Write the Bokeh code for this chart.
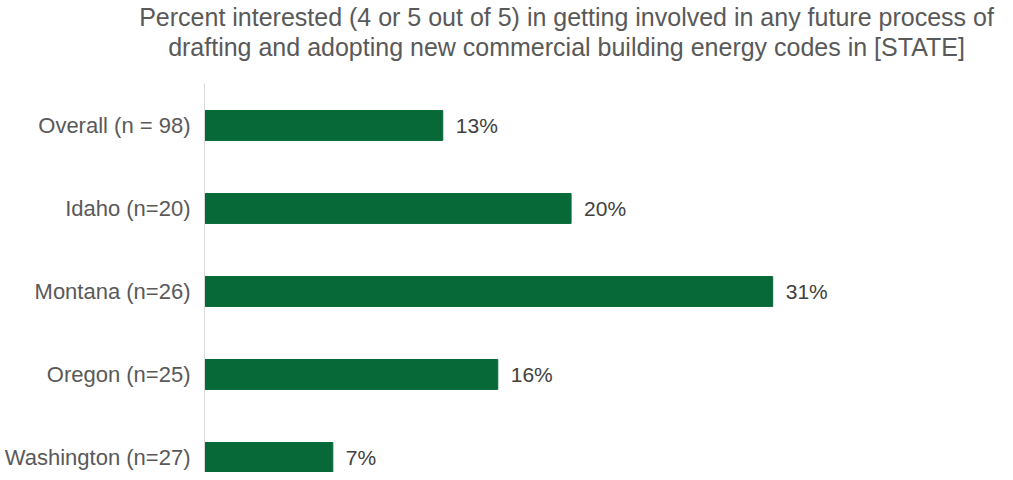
from bokeh.plotting import figure
from bokeh.models import Range1d, FixedTicker, ColumnDataSource, Title
from bokeh.core.properties import value
from bokeh.embed import file_html
from bokeh.resources import INLINE

categories = ["Overall (n = 98)", "Idaho (n=20)", "Montana (n=26)", "Oregon (n=25)", "Washington (n=27)"]
percents = [13, 20, 31, 16, 7]
value_labels = ["13%", "20%", "31%", "16%", "7%"]
title_lines = ["Percent interested (4 or 5 out of 5) in getting involved in any future process of",
               "drafting and adopting new commercial building energy codes in [STATE]"]

FONT = "Liberation Sans"
idx = list(range(len(categories)))
src = ColumnDataSource(dict(y=idx, v=percents, lab=value_labels))

p = figure(width=1005, height=472, output_backend="svg", toolbar_location=None, title=None,
           x_range=Range1d(0, 39.5), y_range=Range1d(4.181, -0.506),
           min_border_left=204, min_border_right=77, min_border_top=83, min_border_bottom=0)

# spacer nearest the frame, then the two centred title lines (second line first)
p.add_layout(Title(text=" ", text_font_size="1px", standoff=20), "above")
for line, lh in zip(reversed(title_lines), [1.0, 0.6]):
    p.add_layout(Title(text=line, align="center", text_font=FONT, text_font_size="25px",
                       text_font_style="normal", text_color="#595959", standoff=0,
                       text_line_height=lh), "above")

p.hbar(y="y", right="v", left=0, height=0.36, source=src, color="#076937")
p.text(x="v", y="y", text="lab", source=src, x_offset=13, text_baseline="middle",
       text_align="left", text_font=value(FONT), text_font_size="21px", text_color="#404040")

p.xaxis.visible = False
p.yaxis.ticker = FixedTicker(ticks=idx)
p.yaxis.major_label_overrides = {i: c for i, c in zip(idx, categories)}
p.yaxis.major_tick_line_color = None
p.yaxis.minor_tick_line_color = None
p.yaxis.axis_line_color = "#d9d9d9"
p.yaxis.axis_line_width = 1
p.yaxis.major_label_standoff = 8
p.yaxis.major_label_text_font = FONT
p.yaxis.major_label_text_font_size = "22px"
p.yaxis.major_label_text_color = "#595959"
p.xgrid.visible = False
p.ygrid.visible = False
p.outline_line_color = None

open("out.html", "w").write(file_html(p, INLINE))
